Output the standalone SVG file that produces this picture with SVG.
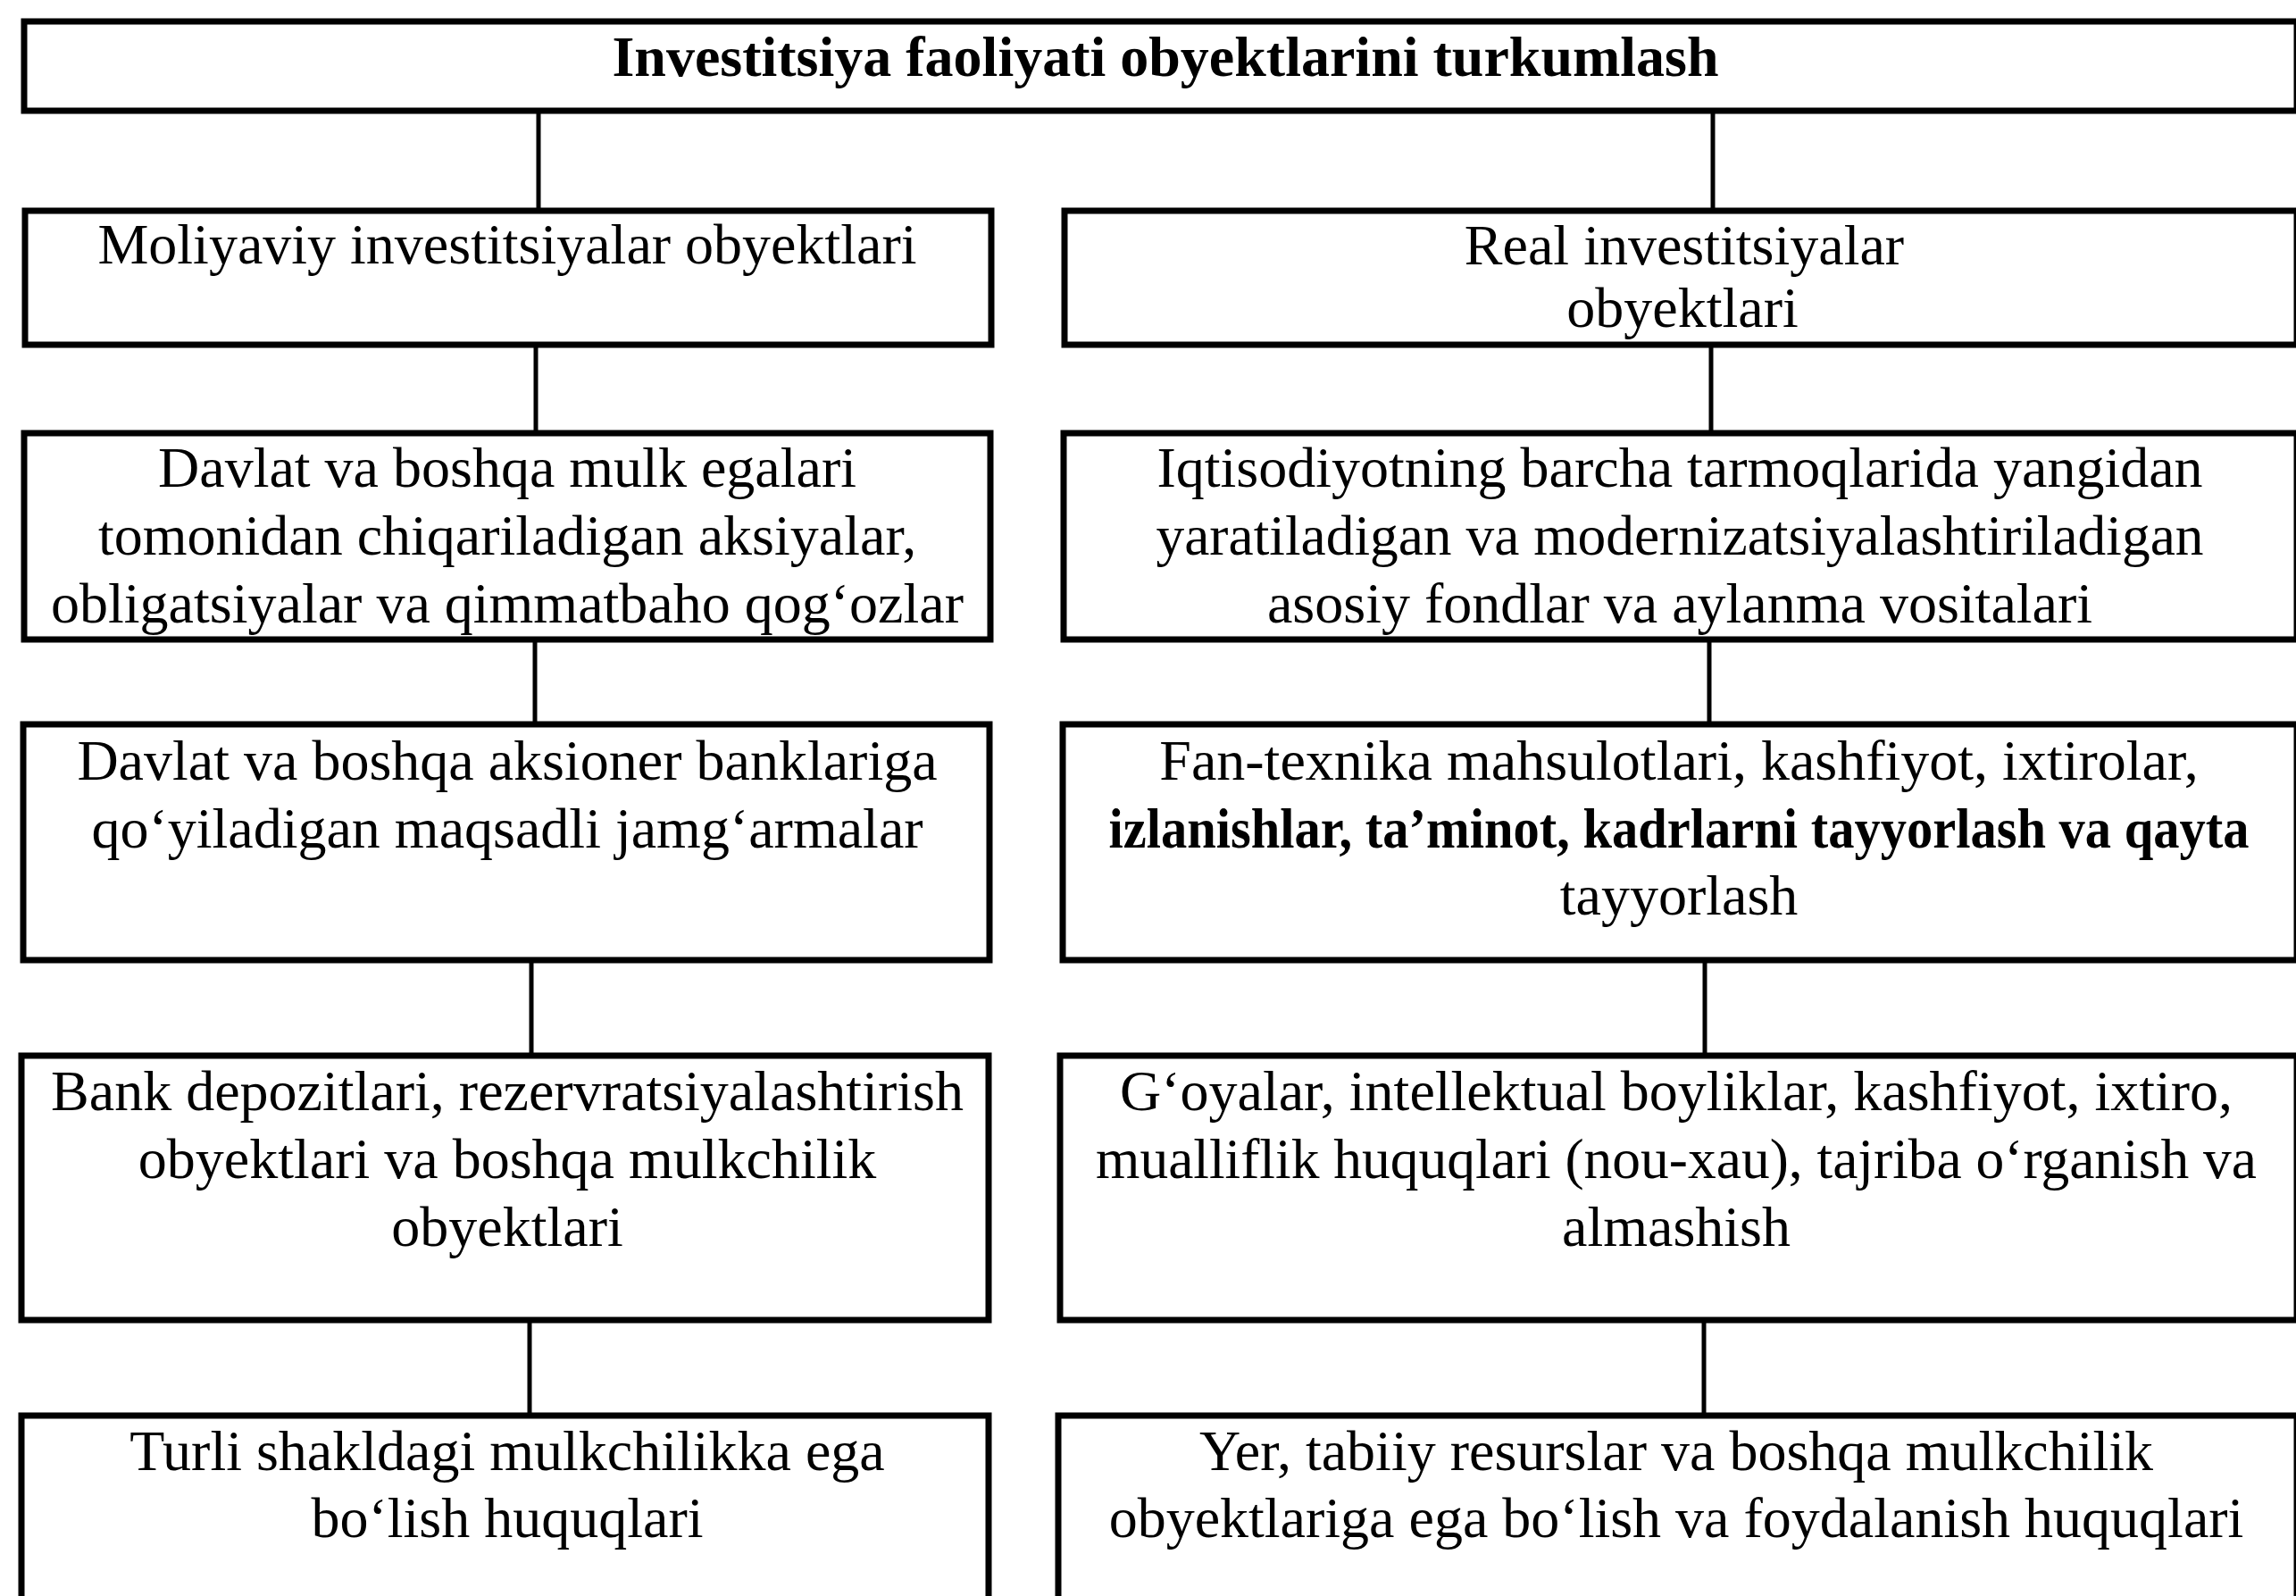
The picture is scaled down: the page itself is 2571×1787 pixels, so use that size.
<svg xmlns="http://www.w3.org/2000/svg" width="2571" height="1787" viewBox="0 0 2571 1787">
<style>
.box{fill:#fff;stroke:#000;stroke-width:7}
.con{stroke:#000;stroke-width:5;fill:none}
text{font-family:"Liberation Serif","Times New Roman",serif;font-size:64px;fill:#000;text-anchor:middle}
.t{font-weight:bold}
.b{font-weight:bold}
</style>
<rect width="2571" height="1787" fill="#fff"/>
<g id="connectors">
<line class="con" x1="603" y1="127" x2="603" y2="236"/>
<line class="con" x1="600" y1="386" x2="600" y2="485"/>
<line class="con" x1="599" y1="716" x2="599" y2="811"/>
<line class="con" x1="595" y1="1075" x2="595" y2="1182"/>
<line class="con" x1="593" y1="1478" x2="593" y2="1585"/>
<line class="con" x1="1918" y1="127" x2="1918" y2="236"/>
<line class="con" x1="1916" y1="386" x2="1916" y2="485"/>
<line class="con" x1="1914" y1="716" x2="1914" y2="811"/>
<line class="con" x1="1909" y1="1075" x2="1909" y2="1182"/>
<line class="con" x1="1908" y1="1478" x2="1908" y2="1585"/>
</g>
<g id="title">
<rect class="box" x="27" y="24" width="2545" height="100"/>
<text class="t" x="1305" y="85">Investitsiya faoliyati obyektlarini turkumlash</text>
</g>
<g id="L1">
<rect class="box" x="28" y="236" width="1082" height="150"/>
<text x="568" y="295">Moliyaviy investitsiyalar obyektlari</text>
</g>
<g id="L2">
<rect class="box" x="27" y="485" width="1082" height="231"/>
<text x="568" y="545">Davlat va boshqa mulk egalari</text>
<text x="568" y="621">tomonidan chiqariladigan aksiyalar,</text>
<text x="568" y="697">obligatsiyalar va qimmatbaho qog‘ozlar</text>
</g>
<g id="L3">
<rect class="box" x="26" y="811" width="1082" height="264"/>
<text x="568" y="873">Davlat va boshqa aksioner banklariga</text>
<text x="568" y="949">qo‘yiladigan maqsadli jamg‘armalar</text>
</g>
<g id="L4">
<rect class="box" x="24" y="1182" width="1083" height="296"/>
<text x="568" y="1243">Bank depozitlari, rezervratsiyalashtirish</text>
<text x="568" y="1319">obyektlari va boshqa mulkchilik</text>
<text x="568" y="1395">obyektlari</text>
</g>
<g id="L5">
<rect class="box" x="24" y="1585" width="1083" height="300"/>
<text x="568" y="1646">Turli shakldagi mulkchilikka ega</text>
<text x="568" y="1721">bo‘lish huquqlari</text>
</g>
<g id="R1">
<rect class="box" x="1192" y="236" width="1380" height="150"/>
<text x="1886" y="296">Real investitsiyalar</text>
<text x="1884" y="366">obyektlari</text>
</g>
<g id="R2">
<rect class="box" x="1191" y="485" width="1381" height="231"/>
<text x="1881" y="545">Iqtisodiyotning barcha tarmoqlarida yangidan</text>
<text x="1881" y="621" textLength="1173" lengthAdjust="spacingAndGlyphs">yaratiladigan va modernizatsiyalashtiriladigan</text>
<text x="1881" y="697">asosiy fondlar va aylanma vositalari</text>
</g>
<g id="R3">
<rect class="box" x="1190" y="811" width="1382" height="264"/>
<text x="1880" y="873">Fan-texnika mahsulotlari, kashfiyot, ixtirolar,</text>
<text class="b" x="1880" y="949" textLength="1277" lengthAdjust="spacingAndGlyphs">izlanishlar, ta’minot, kadrlarni tayyorlash va qayta</text>
<text x="1880" y="1024">tayyorlash</text>
</g>
<g id="R4">
<rect class="box" x="1187" y="1182" width="1385" height="296"/>
<text x="1877" y="1243">G‘oyalar, intellektual boyliklar, kashfiyot, ixtiro,</text>
<text x="1877" y="1319" textLength="1300" lengthAdjust="spacingAndGlyphs">mualliflik huquqlari (nou-xau), tajriba o‘rganish va</text>
<text x="1877" y="1395">almashish</text>
</g>
<g id="R5">
<rect class="box" x="1185" y="1585" width="1387" height="300"/>
<text x="1877" y="1646">Yer, tabiiy resurslar va boshqa mulkchilik</text>
<text x="1877" y="1721">obyektlariga ega bo‘lish va foydalanish huquqlari</text>
</g>
</svg>
